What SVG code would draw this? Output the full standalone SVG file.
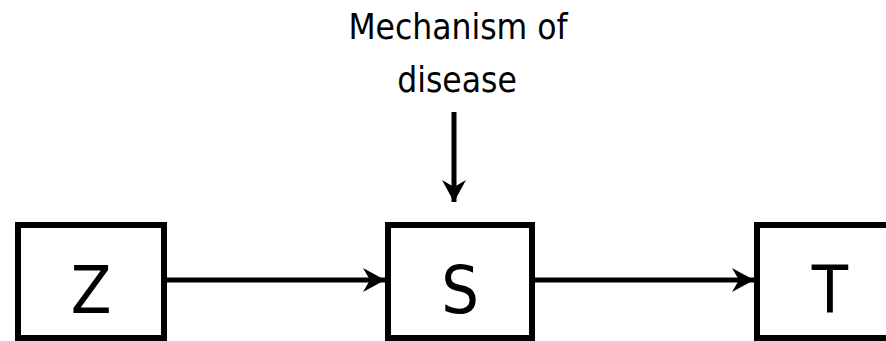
<svg xmlns="http://www.w3.org/2000/svg" width="886" height="341" viewBox="0 0 886 341">
  <style>
    .box { fill: #ffffff; stroke: #000000; stroke-width: 6; }
    .lbl { font-family: "DejaVu Sans Condensed", "DejaVu Sans", sans-serif; font-stretch: condensed; fill: #000000; text-anchor: middle; }
    .big { font-size: 66px; }
    .cap { font-size: 35px; }
    .edge { stroke: #000000; stroke-width: 5; fill: none; }
  </style>
  <defs>
    <marker id="ah" viewBox="0 0 22 24" refX="22" refY="12" markerWidth="22" markerHeight="24" markerUnits="userSpaceOnUse" orient="auto">
      <path d="M0,0 L22,12 L0,24 L7,12 Z" fill="#000000"/>
    </marker>
  </defs>
  <rect width="886" height="341" fill="#ffffff"/>
  <g id="connectors">
    <line class="edge" x1="166" y1="280" x2="385" y2="280" marker-end="url(#ah)"/>
    <line class="edge" x1="535" y1="280" x2="754" y2="280" marker-end="url(#ah)"/>
    <line class="edge" x1="454" y1="112" x2="454" y2="202" marker-end="url(#ah)"/>
  </g>
  <g id="label-mechanism">
    <text class="lbl cap" x="458" y="39">Mechanism of</text>
    <text class="lbl cap" x="457" y="92">disease</text>
  </g>
  <g id="node-Z">
    <rect class="box" x="18" y="225" width="146" height="113"/>
    <text class="lbl big" x="91" y="313">Z</text>
  </g>
  <g id="node-S">
    <rect class="box" x="388" y="225" width="144" height="113"/>
    <text class="lbl big" x="460" y="313">S</text>
  </g>
  <g id="node-T">
    <rect class="box" x="757" y="225" width="144" height="113"/>
    <text class="lbl big" x="830" y="313">T</text>
  </g>
</svg>
